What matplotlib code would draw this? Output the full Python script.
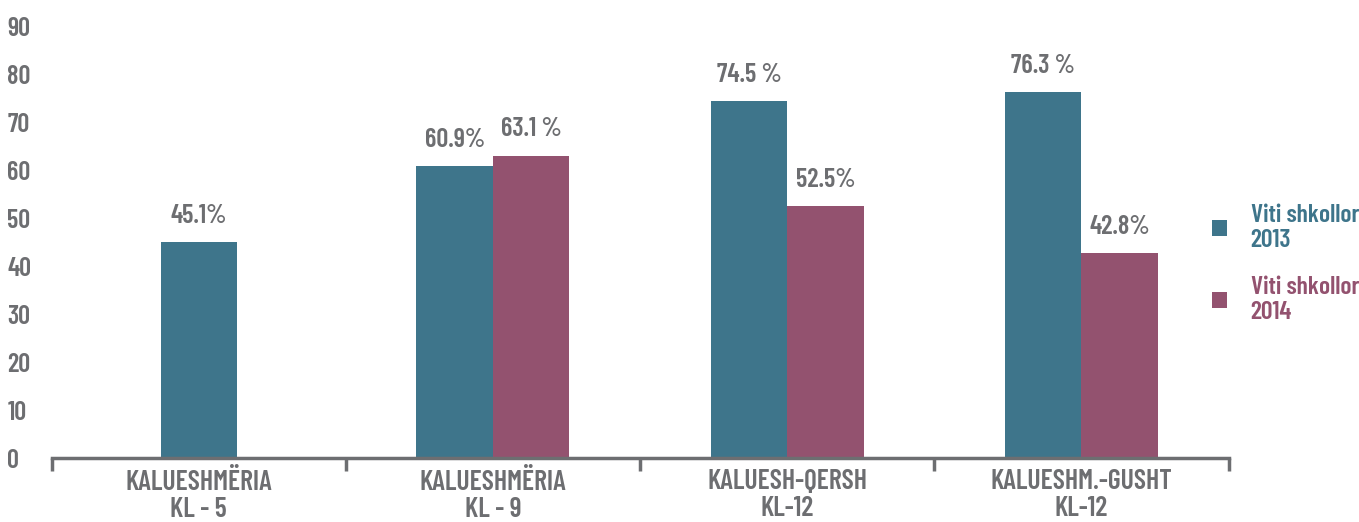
import matplotlib
matplotlib.use("Agg")
import matplotlib.pyplot as plt
import numpy as np

categories = ["KALUESHMËRIA\nKL - 5", "KALUESHMËRIA\nKL - 9",
              "KALUESH-QERSH\nKL-12", "KALUESHM.-GUSHT\nKL-12"]
values_2013 = [45.1, 60.9, 74.5, 76.3]
values_2014 = [None, 63.1, 52.5, 42.8]
labels_2013 = ["45.1%", "60.9%", "74.5 %", "76.3 %"]
labels_2014 = [None, "63.1 %", "52.5%", "42.8%"]
series_names = ["Viti shkollor\n2013", "Viti shkollor\n2014"]
yticks = list(range(0, 100, 10))

TEAL = "#3e758b"
PLUM = "#93526f"
GRAY = "#6d6e71"

plt.rcParams["font.family"] = ["Barlow Condensed", "DejaVu Sans"]
plt.rcParams["font.weight"] = "semibold"

fig = plt.figure(figsize=(13.59, 5.22), dpi=100)
ax = fig.add_axes([0.038, 0.1226, 0.866, 0.826])

x = np.arange(len(categories))
w = 0.26
for i in range(len(categories)):
    v13, v14 = values_2013[i], values_2014[i]
    off = w / 2 if v14 is not None else 0
    ax.bar(x[i] - off, v13, w, color=TEAL, label=series_names[0] if i == 0 else None)
    ax.text(x[i] - off, v13 + 3.0, labels_2013[i], ha="center", va="bottom",
            fontsize=19, color=GRAY)
    if v14 is not None:
        ax.bar(x[i] + off, v14, w, color=PLUM, label=series_names[1] if i == 1 else None)
        ax.text(x[i] + off, v14 + 3.0, labels_2014[i], ha="center", va="bottom",
                fontsize=19, color=GRAY)

ax.set_xlim(-0.5, len(categories) - 0.5)
ax.set_ylim(0, 90)
ax.set_yticks(yticks)
ax.tick_params(axis="y", length=0, labelsize=19, labelcolor=GRAY, pad=32)
for lab in ax.get_yticklabels():
    lab.set_horizontalalignment("left")

# category labels, with boundary ticks on the axis
ax.set_xticks(x)
ax.set_xticklabels(categories, fontsize=20, color=GRAY, linespacing=1.1)
ax.tick_params(axis="x", length=0, pad=8)
ax.set_xticks(np.arange(-0.5, len(categories), 1), minor=True)
ax.tick_params(axis="x", which="minor", length=9, width=2.5, color=GRAY, direction="out")

for s in ["top", "right", "left"]:
    ax.spines[s].set_visible(False)
ax.spines["bottom"].set_color(GRAY)
ax.spines["bottom"].set_linewidth(2.5)

leg = fig.legend(loc="center left", bbox_to_anchor=(1212 / 1359, 1 - 264 / 522),
                 frameon=False, borderpad=0, borderaxespad=0,
                 handlelength=0.6, handleheight=0.6, handletextpad=0.9,
                 labelspacing=0.9, fontsize=18.5)
for t, c in zip(leg.get_texts(), [TEAL, PLUM]):
    t.set_color(c)
    t.set_linespacing(1.15)

fig.savefig("out.png", dpi=100)
